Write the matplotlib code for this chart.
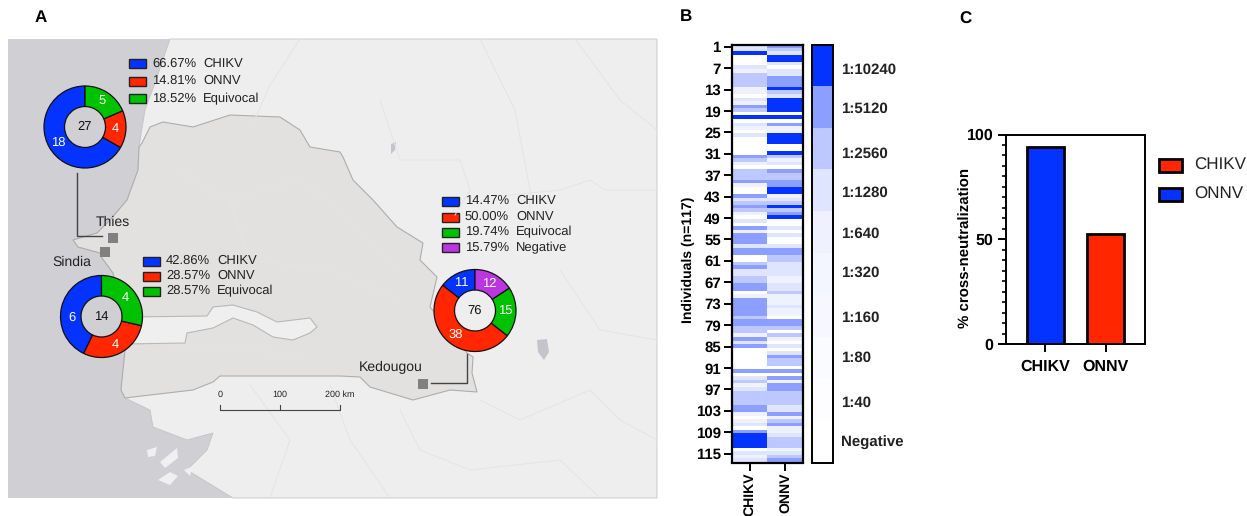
import matplotlib
matplotlib.use('Agg')
import numpy as np
import matplotlib.pyplot as plt
from matplotlib.colors import ListedColormap
from matplotlib.patches import Polygon, Rectangle

plt.rcParams['font.family'] = ['Liberation Sans', 'DejaVu Sans']
plt.rcParams['text.hinting'] = 'no_hinting'
plt.rcParams['text.hinting_factor'] = 1

W, H = 1247, 516

BLUE = '#0433ff'
RED = '#ff2600'
GREEN = '#00c200'
PURPLE = '#bb35e0'

# panel A, number of samples per site
thies_counts = [18, 4, 5]
sindia_counts = [6, 4, 4]
kedougou_counts = [11, 38, 15, 12]
thies_pct = ['66.67%', '14.81%', '18.52%']
sindia_pct = ['42.86%', '28.57%', '28.57%']
kedougou_pct = ['14.47%', '50.00%', '19.74%', '15.79%']
result_names = ['CHIKV', 'ONNV', 'Equivocal', 'Negative']
result_colors = [BLUE, RED, GREEN, PURPLE]

# panel A, map outlines in image pixels
coast = [(170, 39), (155, 83), (145, 110), (139, 147), (138, 170), (127, 200), (110, 220), (97, 233),
         (73, 240), (78, 247), (100, 253), (102, 258), (113, 273), (122, 310), (125, 350), (121, 390),
         (125, 398), (150, 410), (153, 427), (187, 440), (213, 433), (207, 450), (187, 470), (233, 498)]
senegal = [(142, 143), (150, 127), (163, 122), (193, 127), (230, 115), (280, 117), (300, 130), (310, 147),
           (340, 152), (343, 157), (353, 180), (373, 200), (397, 227), (423, 243), (420, 260), (437, 277),
           (430, 307), (467, 353), (473, 357), (472, 373), (477, 392), (450, 390), (413, 400), (370, 387),
           (360, 377), (340, 376), (220, 376), (213, 382), (193, 390), (150, 395), (125, 398), (121, 390),
           (125, 350), (122, 310), (113, 273), (102, 258), (100, 253), (78, 247), (73, 240), (97, 233),
           (110, 220), (127, 200), (138, 170), (139, 147)]
gambia = [(128, 317), (207, 316), (213, 307), (233, 305), (257, 312), (277, 322), (310, 318), (317, 327),
          (310, 333), (293, 340), (273, 337), (253, 325), (233, 318), (213, 328), (187, 333), (185, 343),
          (125, 344)]
islands = [[(147, 450), (157, 447), (155, 456), (148, 457)],
           [(160, 462), (177, 448), (178, 458), (165, 468)],
           [(158, 480), (170, 472), (178, 476), (170, 485)],
           [(184, 470), (193, 466), (190, 476)]]
lakes = [[(391, 144), (396, 142), (395, 150), (391, 154)],
         [(537, 340), (547, 339), (549, 352), (544, 360), (538, 352)]]
faint_lines = [[(300, 39), (270, 85), (250, 130)], [(480, 39), (515, 110), (530, 190), (530, 225)],
               [(657, 190), (605, 190), (590, 180), (560, 190), (510, 195)],
               [(380, 100), (400, 160), (460, 160), (470, 190), (455, 215)],
               [(575, 39), (620, 100), (657, 130)], [(180, 170), (225, 200), (300, 180), (340, 210)],
               [(230, 200), (250, 260), (330, 270), (400, 300)], [(340, 210), (400, 270)],
               [(480, 400), (520, 420), (590, 390), (620, 420), (657, 440)],
               [(400, 410), (420, 450), (470, 470), (560, 460), (600, 498)],
               [(250, 385), (290, 440), (270, 498)], [(330, 385), (350, 440), (390, 498)],
               [(170, 350), (240, 345), (300, 360)], [(560, 270), (600, 330), (657, 340)]]

# panel B, titre level of each individual (0 negative ... 9 is 1:10240)
chikv_titre = [6, 6, 9, 0, 0, 0, 6, 5, 7, 7,
               7, 7, 5, 5, 0, 6, 5, 8, 7, 0,
               9, 0, 6, 5, 0, 6, 0, 0, 0, 0,
               0, 8, 7, 5, 0, 7, 7, 7, 8, 5,
               0, 0, 8, 6, 7, 8, 7, 5, 0, 6,
               0, 8, 5, 8, 8, 8, 6, 8, 8, 0,
               0, 7, 8, 6, 6, 7, 7, 8, 8, 0,
               5, 8, 8, 8, 8, 8, 7, 8, 8, 7,
               7, 5, 8, 6, 8, 0, 0, 0, 0, 0,
               0, 8, 0, 6, 7, 5, 6, 7, 7, 7,
               7, 8, 8, 5, 0, 5, 6, 0, 8, 9,
               9, 9, 9, 0, 6, 5, 6]
onnv_titre = [8, 7, 6, 9, 9, 6, 0, 6, 6, 8,
              8, 8, 9, 7, 6, 9, 9, 9, 9, 0,
              9, 0, 8, 5, 5, 9, 9, 9, 0, 0,
              9, 7, 5, 6, 0, 8, 7, 7, 8, 8,
              9, 9, 5, 6, 7, 9, 7, 8, 9, 0,
              0, 6, 0, 6, 0, 0, 6, 8, 8, 7,
              7, 6, 6, 6, 6, 5, 5, 6, 6, 7,
              5, 5, 5, 6, 5, 5, 0, 8, 8, 7,
              0, 7, 5, 0, 6, 0, 6, 8, 7, 7,
              0, 8, 0, 8, 5, 8, 8, 7, 7, 7,
              7, 6, 6, 8, 5, 7, 8, 5, 5, 6,
              7, 7, 7, 5, 6, 7, 8]
titre_colors = ['#ffffff', '#fdfdff', '#fafbff', '#f7f8ff', '#f4f6ff',
                '#eff1ff', '#e0e5ff', '#bcc8ff', '#8c9eff', '#0433ff']
titre_levels = [9, 8, 7, 6, 5, 4, 3, 2, 1, 0]
titre_labels = ['1:10240', '1:5120', '1:2560', '1:1280', '1:640',
                '1:320', '1:160', '1:80', '1:40', 'Negative']
titre_label_y = [70, 109, 154, 193, 234, 273, 318, 358, 403, 443]
viruses = ['CHIKV', 'ONNV']

# panel C
cross_neutral = [93.8, 52.4]
legend_c_names = ['CHIKV', 'ONNV']
legend_c_colors = [RED, BLUE]


def px_axes(x0, y0, x1, y1, **kw):
    # axes from image pixel box, y counted from the top
    return fig.add_axes([x0 / W, 1 - y1 / H, (x1 - x0) / W, (y1 - y0) / H], **kw)


def donut(cx, cy, counts, colors):
    r = 41
    ax = px_axes(cx - r - 1, cy - r - 1, cx + r + 1, cy + r + 1)
    ax.patch.set_alpha(0)
    total = sum(counts)
    _, _, texts = ax.pie(counts, colors=colors, startangle=90, counterclock=True, radius=1,
                         autopct=lambda p: str(int(round(p * total / 100))), pctdistance=0.75,
                         wedgeprops=dict(width=0.5, edgecolor='#111111', linewidth=0.9))
    for t in texts:
        t.set_color('white')
        t.set_fontsize(9.6)
    ax.set_xlim(-42 / 41, 42 / 41)
    ax.set_ylim(-42 / 41, 42 / 41)
    ax.text(0, 0, str(total), ha='center', va='center', fontsize=9, color='#111111')
    return texts


def key(ax, x, y_rows, pct):
    for i, y in enumerate(y_rows):
        ax.add_patch(Rectangle((x, y - 4.5), 17, 9, facecolor=result_colors[i], edgecolor='#222222', lw=1))
        ax.text(x + 67, y, pct[i], ha='right', va='center', fontsize=9, color='#222222')
        ax.text(x + 74, y, result_names[i], ha='left', va='center', fontsize=9, color='#222222')


fig = plt.figure(figsize=(W / 100, H / 100), dpi=100)

# map and everything placed in pixels
base = px_axes(0, 0, W, H)
base.set_xlim(0, W)
base.set_ylim(H, 0)
base.axis('off')

base.add_patch(Rectangle((8, 39), 649, 459, facecolor='#cfcfd4', edgecolor='none'))
base.add_patch(Polygon(coast + [(657, 498), (657, 39)], facecolor='#eeeeef', edgecolor='#c4c4c4', lw=0.6))
for isl in islands:
    base.add_patch(Polygon(isl, facecolor='#f0f0f0', edgecolor='none'))
for line in faint_lines:
    xs, ys = zip(*line)
    base.plot(xs, ys, color='#e4e4e6', lw=0.7)
base.add_patch(Polygon(senegal, facecolor='#e2e1df', edgecolor='#adadad', lw=0.8))
base.add_patch(Polygon(gambia, facecolor='#efefef', edgecolor='#b8b8b8', lw=0.8))
for lake in lakes:
    base.add_patch(Polygon(lake, facecolor='#c4c4cc', edgecolor='none'))

# scale bar
base.plot([220, 220, 340, 340], [405, 410, 410, 405], color='#444444', lw=0.8)
base.plot([280, 280], [405, 410], color='#444444', lw=0.8)
base.text(220, 395, '0', ha='center', va='center', fontsize=6.5, color='#222222')
base.text(280, 395, '100', ha='center', va='center', fontsize=6.5, color='#222222')
base.text(340, 395, '200 km', ha='center', va='center', fontsize=6.5, color='#222222')

# sites and leader lines
for sx, sy in [(113, 238), (105, 252), (423, 384)]:
    base.add_patch(Rectangle((sx - 5, sy - 5), 10, 10, facecolor='#808080', edgecolor='none'))
base.plot([77, 77, 102], [173, 236, 236], color='#444444', lw=1)
base.plot([467, 467, 431], [354, 383, 383], color='#444444', lw=1)
base.text(112.5, 222, 'Thies', ha='center', va='center', fontsize=10.3, color='#222222')
base.text(71.5, 262, 'Sindia', ha='center', va='center', fontsize=10.3, color='#222222')
base.text(390.5, 367, 'Kedougou', ha='center', va='center', fontsize=10.3, color='#222222')

key(base, 129, [63.5, 81, 98.5], thies_pct)
key(base, 143, [261, 276, 291], sindia_pct)
key(base, 442, [201, 217, 232, 247.5], kedougou_pct)

base.text(41, 18, 'A', ha='center', va='center', fontsize=12, fontweight='bold')
base.text(686, 17, 'B', ha='center', va='center', fontsize=12, fontweight='bold')
base.text(965, 19, 'C', ha='center', va='center', fontsize=12, fontweight='bold')

donut(85, 127, thies_counts, [BLUE, RED, GREEN])
sindia_texts = donut(101.5, 316.5, sindia_counts, [BLUE, RED, GREEN])
sindia_texts[0].set_y(-0.02)
donut(475, 310.5, kedougou_counts, [BLUE, RED, GREEN, PURPLE])

# heat map
cmap = ListedColormap(titre_colors)
heat = px_axes(732, 45, 803, 462.5)
z = np.array([chikv_titre, onnv_titre]).T
heat.imshow(z, cmap=cmap, vmin=-0.5, vmax=9.5, aspect='auto', interpolation='nearest',
            extent=(-0.5, 1.5, 117.5, 0.5))
heat.set_yticks(np.arange(1, 118, 6))
heat.set_xticks([0, 1], viruses, rotation=90)
heat.tick_params(axis='both', length=6, width=1.4, labelsize=10.8, pad=2)
heat.tick_params(axis='x', pad=1, labelsize=10)
for lab in heat.get_xticklabels() + heat.get_yticklabels():
    lab.set_fontweight('bold')
for s in heat.spines.values():
    s.set_linewidth(1.6)
heat.set_ylabel('Individuals (n=117)', fontsize=10.2, fontweight='bold')
heat.yaxis.set_label_coords((695 - 732) / 71, 0.486)

# titre scale
cbar = px_axes(812, 45, 833, 462.5)
cbar.imshow(np.array(titre_levels).reshape(-1, 1), cmap=cmap, vmin=-0.5, vmax=9.5, aspect='auto',
            interpolation='nearest')
cbar.set_xticks([])
cbar.set_yticks([])
for s in cbar.spines.values():
    s.set_linewidth(1.4)
for lab, y in zip(titre_labels, titre_label_y):
    base.text(841, y, lab, ha='left', va='center', fontsize=10.6, fontweight='bold', color='#222222', zorder=5)

# cross neutralization bars
bars = px_axes(1006, 134.5, 1145, 344)
bars.bar([0, 1], cross_neutral, width=0.617, color=[BLUE, RED], edgecolor='black', linewidth=2)
bars.set_xlim(-0.658, 1.658)
bars.set_ylim(0, 100)
bars.set_yticks([0, 50, 100])
bars.set_yticks(np.arange(0, 101, 5), minor=True)
bars.set_xticks([0, 1], viruses)
bars.tick_params(axis='both', which='major', length=6, width=1.4, labelsize=11.2, pad=3)
bars.tick_params(axis='y', which='minor', length=3, width=1.2)
bars.tick_params(axis='x', pad=5)
for lab in bars.get_xticklabels() + bars.get_yticklabels():
    lab.set_fontweight('bold')
for s in bars.spines.values():
    s.set_linewidth(1.4)
bars.set_ylabel('% cross-neutralization', fontsize=10.6, fontweight='bold')
bars.yaxis.set_label_coords((973 - 1006) / 139, 0.458)

for name, col, y in zip(legend_c_names, legend_c_colors, [165, 194.5]):
    base.add_patch(Rectangle((1159, y - 6.5), 23, 13, facecolor=col, edgecolor='black', lw=2))
    base.text(1194, y, name, ha='left', va='center', fontsize=12.2, color='#222222')

fig.savefig('out.png', dpi=100)
